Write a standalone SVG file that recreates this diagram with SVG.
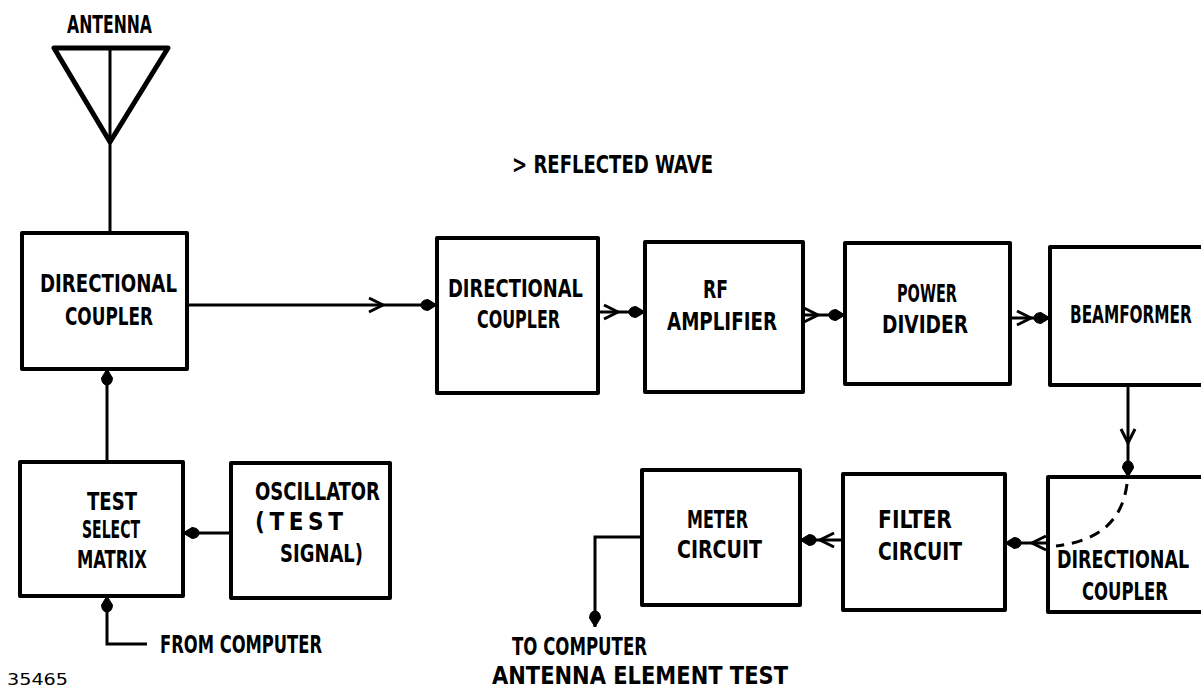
<svg xmlns="http://www.w3.org/2000/svg" xmlns:xlink="http://www.w3.org/1999/xlink" width="1201" height="688" viewBox="0 0 1201 688">
<style>
.box{fill:none;stroke:#000;stroke-width:4;stroke-linejoin:round}
.ln{fill:none;stroke:#000;stroke-width:3}
.dash{fill:none;stroke:#000;stroke-width:3;stroke-dasharray:11 8}
.chev{fill:none;stroke:#000;stroke-width:3;stroke-linejoin:miter}
.dart{fill:#000;stroke:#000;stroke-width:1}
text{font-family:"Liberation Sans Narrow","DejaVu Sans Condensed","DejaVu Sans",sans-serif;font-weight:bold;font-size:24px;fill:#000}
.sm{font-size:16px;font-weight:normal}
</style>
<defs>
<path id="chev" class="chev" d="M-14,-7 L0,0 L-14,7"/>
<path id="dart" class="dart" d="M0,0 L-9,-5.5 Q-16,-5 -16,0 Q-16,5 -9,5.5 Z"/>
</defs>
<rect width="1201" height="688" fill="#fff"/>

<g id="antenna">
<path d="M54,48 L168,48 L110,142 Z" fill="none" stroke="#000" stroke-width="5" stroke-linejoin="round"/>
<text x="67" y="33" textLength="85" lengthAdjust="spacingAndGlyphs">ANTENNA</text>
</g>

<g id="connectors">
<path class="ln" d="M110,48 V233"/>
<path class="ln" d="M187,305 H437"/>
<use xlink:href="#chev" transform="translate(383,305)"/>
<use xlink:href="#dart" transform="translate(437,305)"/>
<path class="ln" d="M598,312 H645"/>
<use xlink:href="#chev" transform="translate(618,312)"/>
<use xlink:href="#dart" transform="translate(645,312)"/>
<path class="ln" d="M803,315 H845"/>
<use xlink:href="#chev" transform="translate(818,315)"/>
<use xlink:href="#dart" transform="translate(845,315)"/>
<path class="ln" d="M1010,318 H1050"/>
<use xlink:href="#chev" transform="translate(1031,318)"/>
<use xlink:href="#dart" transform="translate(1050,318)"/>
<path class="ln" d="M1128,385 V477"/>
<use xlink:href="#chev" transform="translate(1128,443) rotate(90)"/>
<use xlink:href="#dart" transform="translate(1128,477) rotate(90)"/>
<path class="dash" d="M1127,484 C1122,522 1098,541 1056,546"/>
<path class="ln" d="M1048,543 H1005"/>
<use xlink:href="#chev" transform="translate(1032,543) rotate(180)"/>
<use xlink:href="#dart" transform="translate(1005,543) rotate(180)"/>
<path class="ln" d="M843,540 H800"/>
<use xlink:href="#chev" transform="translate(820,540) rotate(180)"/>
<use xlink:href="#dart" transform="translate(800,540) rotate(180)"/>
<path class="ln" d="M642,537 H595 V627"/>
<use xlink:href="#dart" transform="translate(595,627) rotate(90)"/>
<path class="ln" d="M231,533 H183"/>
<use xlink:href="#dart" transform="translate(183,533) rotate(180)"/>
<path class="ln" d="M107,462 V369"/>
<use xlink:href="#dart" transform="translate(107,369) rotate(-90)"/>
<path class="ln" d="M147,644 H107 V596"/>
<use xlink:href="#dart" transform="translate(107,596) rotate(-90)"/>
</g>

<g id="dc1">
<rect class="box" x="22" y="233" width="165" height="136"/>
<text x="40" y="292" textLength="137" lengthAdjust="spacingAndGlyphs">DIRECTIONAL</text>
<text x="65" y="325" textLength="88" lengthAdjust="spacingAndGlyphs">COUPLER</text>
</g>

<g id="tsm">
<rect class="box" x="20" y="462" width="163" height="134"/>
<text x="87" y="510" textLength="50" lengthAdjust="spacingAndGlyphs">TEST</text>
<text x="82" y="538" textLength="58" lengthAdjust="spacingAndGlyphs">SELECT</text>
<text x="77" y="568" textLength="70" lengthAdjust="spacingAndGlyphs">MATRIX</text>
</g>

<g id="osc">
<rect class="box" x="231" y="463" width="159" height="135"/>
<text x="255" y="500" textLength="125" lengthAdjust="spacingAndGlyphs">OSCILLATOR</text>
<text x="255" y="530" textLength="88" lengthAdjust="spacing">(TEST</text>
<text x="280" y="562" textLength="83" lengthAdjust="spacingAndGlyphs">SIGNAL)</text>
</g>

<g id="dc2">
<rect class="box" x="437" y="238" width="161" height="155"/>
<text x="448" y="297" textLength="135" lengthAdjust="spacingAndGlyphs">DIRECTIONAL</text>
<text x="477" y="328" textLength="83" lengthAdjust="spacingAndGlyphs">COUPLER</text>
</g>

<g id="rf">
<rect class="box" x="645" y="242" width="158" height="150"/>
<text x="703" y="298" textLength="25" lengthAdjust="spacingAndGlyphs">RF</text>
<text x="667" y="330" textLength="110" lengthAdjust="spacingAndGlyphs">AMPLIFIER</text>
</g>

<g id="pd">
<rect class="box" x="845" y="243" width="165" height="141"/>
<text x="897" y="302" textLength="60" lengthAdjust="spacingAndGlyphs">POWER</text>
<text x="882" y="333" textLength="86" lengthAdjust="spacingAndGlyphs">DIVIDER</text>
</g>

<g id="bf">
<rect class="box" x="1050" y="247" width="153" height="138"/>
<text transform="translate(1070,323) scale(0.7,1)" x="0" y="0" textLength="174" lengthAdjust="spacingAndGlyphs">BEAMFORMER</text>
</g>

<g id="dc3">
<rect class="box" x="1048" y="477" width="155" height="135"/>
<text transform="translate(1057,568) scale(0.7,1)" x="0" y="0" textLength="189" lengthAdjust="spacingAndGlyphs">DIRECTIONAL</text>
<text x="1082" y="600" textLength="86" lengthAdjust="spacingAndGlyphs">COUPLER</text>
</g>

<g id="filter">
<rect class="box" x="843" y="474" width="162" height="136"/>
<text x="878" y="528" textLength="74" lengthAdjust="spacingAndGlyphs">FILTER</text>
<text x="878" y="560" textLength="84" lengthAdjust="spacingAndGlyphs">CIRCUIT</text>
</g>

<g id="meter">
<rect class="box" x="642" y="470" width="158" height="135"/>
<text x="687" y="528" textLength="61" lengthAdjust="spacingAndGlyphs">METER</text>
<text x="677" y="558" textLength="85" lengthAdjust="spacingAndGlyphs">CIRCUIT</text>
</g>

<g id="labels">
<text x="512" y="173" textLength="201" lengthAdjust="spacingAndGlyphs">&gt; REFLECTED WAVE</text>
<text x="160" y="653" textLength="162" lengthAdjust="spacingAndGlyphs">FROM COMPUTER</text>
<text x="512" y="655" textLength="135" lengthAdjust="spacingAndGlyphs">TO COMPUTER</text>
<text x="492" y="684" textLength="296" lengthAdjust="spacingAndGlyphs">ANTENNA ELEMENT TEST</text>
<text class="sm" x="7" y="685" textLength="61" lengthAdjust="spacingAndGlyphs">35465</text>
</g>
</svg>
